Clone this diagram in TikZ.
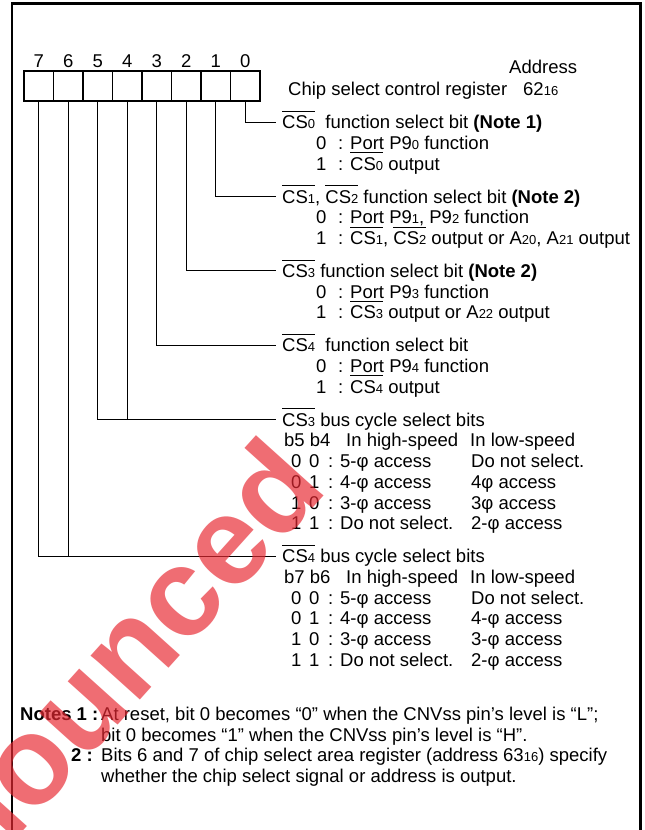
\documentclass[tikz,border=0pt]{standalone}
\usepackage{fontspec}
\setmainfont{Liberation Sans}
\newcommand\sbs[1]{{\fontsize{13}{13}\selectfont #1}}
\newsavebox\ovlbx
\newcommand\ovl[1]{\sbox\ovlbx{#1}\rlap{\rule[17pt]{\wd\ovlbx}{0.9pt}}\usebox{\ovlbx}}
\newcommand\CS[1]{\ovl{CS\sbs{#1}}}
\definecolor{wmred}{RGB}{232,40,50}
\tikzset{
  txt/.style={anchor=base west, inner sep=0pt, font=\fontsize{18.5}{20}\selectfont},
  cell/.style={draw, line width=1.2pt, minimum width=29.5pt, minimum height=30pt, inner sep=0pt},
  link/.style={line width=0.9pt},
  frame/.style={line width=2.4pt},
  wmark/.style={text=wmred, opacity=0.68, inner sep=0pt, font=\bfseries\fontsize{125}{125}\selectfont}
}
\begin{document}
\begin{tikzpicture}[x=1pt,y=-1pt]
\useasboundingbox (0,0) rectangle (645,830);
\clip (0,0) rectangle (645,830);
\fill[white] (0,0) rectangle (645,830);
% frame
\draw[frame] (12,845) -- (12,3.5) -- (640.5,3.5) -- (640.5,845);
% register cells
\foreach \k in {0,...,7}{
  \node[cell] (b\k) at ({24+29.5*(7-\k+0.5)},86) {};
  \node[txt, anchor=base] (d\k) at ({24+29.5*(7-\k+0.5)},67) {\k};
}
\node[txt] (addr) at (509,73) {Address};
\node[txt] (reg) at (288,95.5) {Chip select control register};
\node[txt] (regaddr) at (523,95.5) {62\sbs{16}};
% ---- section 0
\node[txt] (t0) at (282,128.6) {\CS{0}\ \ function select bit \textbf{(Note 1)}};
\node[txt] (t0a) at (316,149.3) {0};
\node[txt] (t0ax) at (338,149.3) {: Port P9\sbs{0} function};
\node[txt] (t0b) at (316,170) {1};
\node[txt] (t0bx) at (338,170) {: \CS{0} output};
% ---- section 1
\node[txt] (t1) at (282,203) {\CS{1}, \CS{2} function select bit \textbf{(Note 2)}};
\node[txt] (t1a) at (316,223.7) {0};
\node[txt] (t1ax) at (338,223.7) {: Port P9\sbs{1}, P9\sbs{2} function};
\node[txt] (t1b) at (316,244.4) {1};
\node[txt] (t1bx) at (338,244.4) {: \CS{1}, \CS{2} output or A\sbs{20}, A\sbs{21} output};
% ---- section 2
\node[txt] (t2) at (282,277.4) {\CS{3} function select bit \textbf{(Note 2)}};
\node[txt] (t2a) at (316,298.1) {0};
\node[txt] (t2ax) at (338,298.1) {: Port P9\sbs{3} function};
\node[txt] (t2b) at (316,318.8) {1};
\node[txt] (t2bx) at (338,318.8) {: \CS{3} output or A\sbs{22} output};
% ---- section 3
\node[txt] (t3) at (282,351.8) {\CS{4}\ \ function select bit};
\node[txt] (t3a) at (316,372.5) {0};
\node[txt] (t3ax) at (338,372.5) {: Port P9\sbs{4} function};
\node[txt] (t3b) at (316,393.2) {1};
\node[txt] (t3bx) at (338,393.2) {: \CS{4} output};
% ---- section 4
\node[txt] (t4) at (282,426.2) {\CS{3} bus cycle select bits};
\node[txt] (t4h) at (284,446.9) {b5 b4};
\node[txt] (t4hh) at (346,446.9) {In high-speed};
\node[txt] (t4hl) at (470,446.9) {In low-speed};
\node[txt] (t4r1a) at (291,467.6) {0};
\node[txt] (t4r1b) at (309,467.6) {0};
\node[txt] (t4r1c) at (328,467.6) {: 5-φ access};
\node[txt] (t4r1d) at (471,467.6) {Do not select.};
\node[txt] (t4r2a) at (291,488.3) {0};
\node[txt] (t4r2b) at (309,488.3) {1};
\node[txt] (t4r2c) at (328,488.3) {: 4-φ access};
\node[txt] (t4r2d) at (471,488.3) {4φ access};
\node[txt] (t4r3a) at (291,509) {1};
\node[txt] (t4r3b) at (309,509) {0};
\node[txt] (t4r3c) at (328,509) {: 3-φ access};
\node[txt] (t4r3d) at (471,509) {3φ access};
\node[txt] (t4r4a) at (291,529.7) {1};
\node[txt] (t4r4b) at (309,529.7) {1};
\node[txt] (t4r4c) at (328,529.7) {: Do not select.};
\node[txt] (t4r4d) at (471,529.7) {2-φ access};
% ---- section 5
\node[txt] (t5) at (282,562.7) {\CS{4} bus cycle select bits};
\node[txt] (t5h) at (284,583.4) {b7 b6};
\node[txt] (t5hh) at (346,583.4) {In high-speed};
\node[txt] (t5hl) at (470,583.4) {In low-speed};
\node[txt] (t5r1a) at (291,604.1) {0};
\node[txt] (t5r1b) at (309,604.1) {0};
\node[txt] (t5r1c) at (328,604.1) {: 5-φ access};
\node[txt] (t5r1d) at (471,604.1) {Do not select.};
\node[txt] (t5r2a) at (291,624.8) {0};
\node[txt] (t5r2b) at (309,624.8) {1};
\node[txt] (t5r2c) at (328,624.8) {: 4-φ access};
\node[txt] (t5r2d) at (471,624.8) {4-φ access};
\node[txt] (t5r3a) at (291,645.5) {1};
\node[txt] (t5r3b) at (309,645.5) {0};
\node[txt] (t5r3c) at (328,645.5) {: 3-φ access};
\node[txt] (t5r3d) at (471,645.5) {3-φ access};
\node[txt] (t5r4a) at (291,666.2) {1};
\node[txt] (t5r4b) at (309,666.2) {1};
\node[txt] (t5r4c) at (328,666.2) {: Do not select.};
\node[txt] (t5r4d) at (471,666.2) {2-φ access};
% ---- notes
\node[txt] (n1) at (20,720.6) {\textbf{Notes 1 :}};
\node[txt] (n1a) at (101,720.6) {At reset, bit 0 becomes “0” when the CNVss pin’s level is “L”;};
\node[txt] (n1b) at (101,741.1) {bit 0 becomes “1” when the CNVss pin’s level is “H”.};
\node[txt] (n2) at (71,761.6) {\textbf{2 :}};
\node[txt] (n2a) at (101,761.6) {Bits 6 and 7 of chip select area register (address 63\sbs{16}) specify};
\node[txt] (n2b) at (101,782.1) {whether the chip select signal or address is output.};
% ---- connectors
\coordinate (e0) at (276,122);
\coordinate (e1) at (276,196.4);
\coordinate (e2) at (276,270.8);
\coordinate (e3) at (276,345.2);
\coordinate (e4) at (276,419.6);
\coordinate (e5) at (276,556.1);
\draw[link] (b0.south) |- (e0);
\draw[link] (b1.south) |- (e1);
\draw[link] (b2.south) |- (e2);
\draw[link] (b3.south) |- (e3);
\draw[link] (b5.south) |- (e4);
\draw[link] (b4.south) -- (b4.south |- e4);
\draw[link] (b7.south) |- (e5);
\draw[link] (b6.south) -- (b6.south |- e5);
% ---- watermark
\node[wmark, rotate=48, anchor=base east] (wm) at (330,490) {Announced};
\end{tikzpicture}
\end{document}
